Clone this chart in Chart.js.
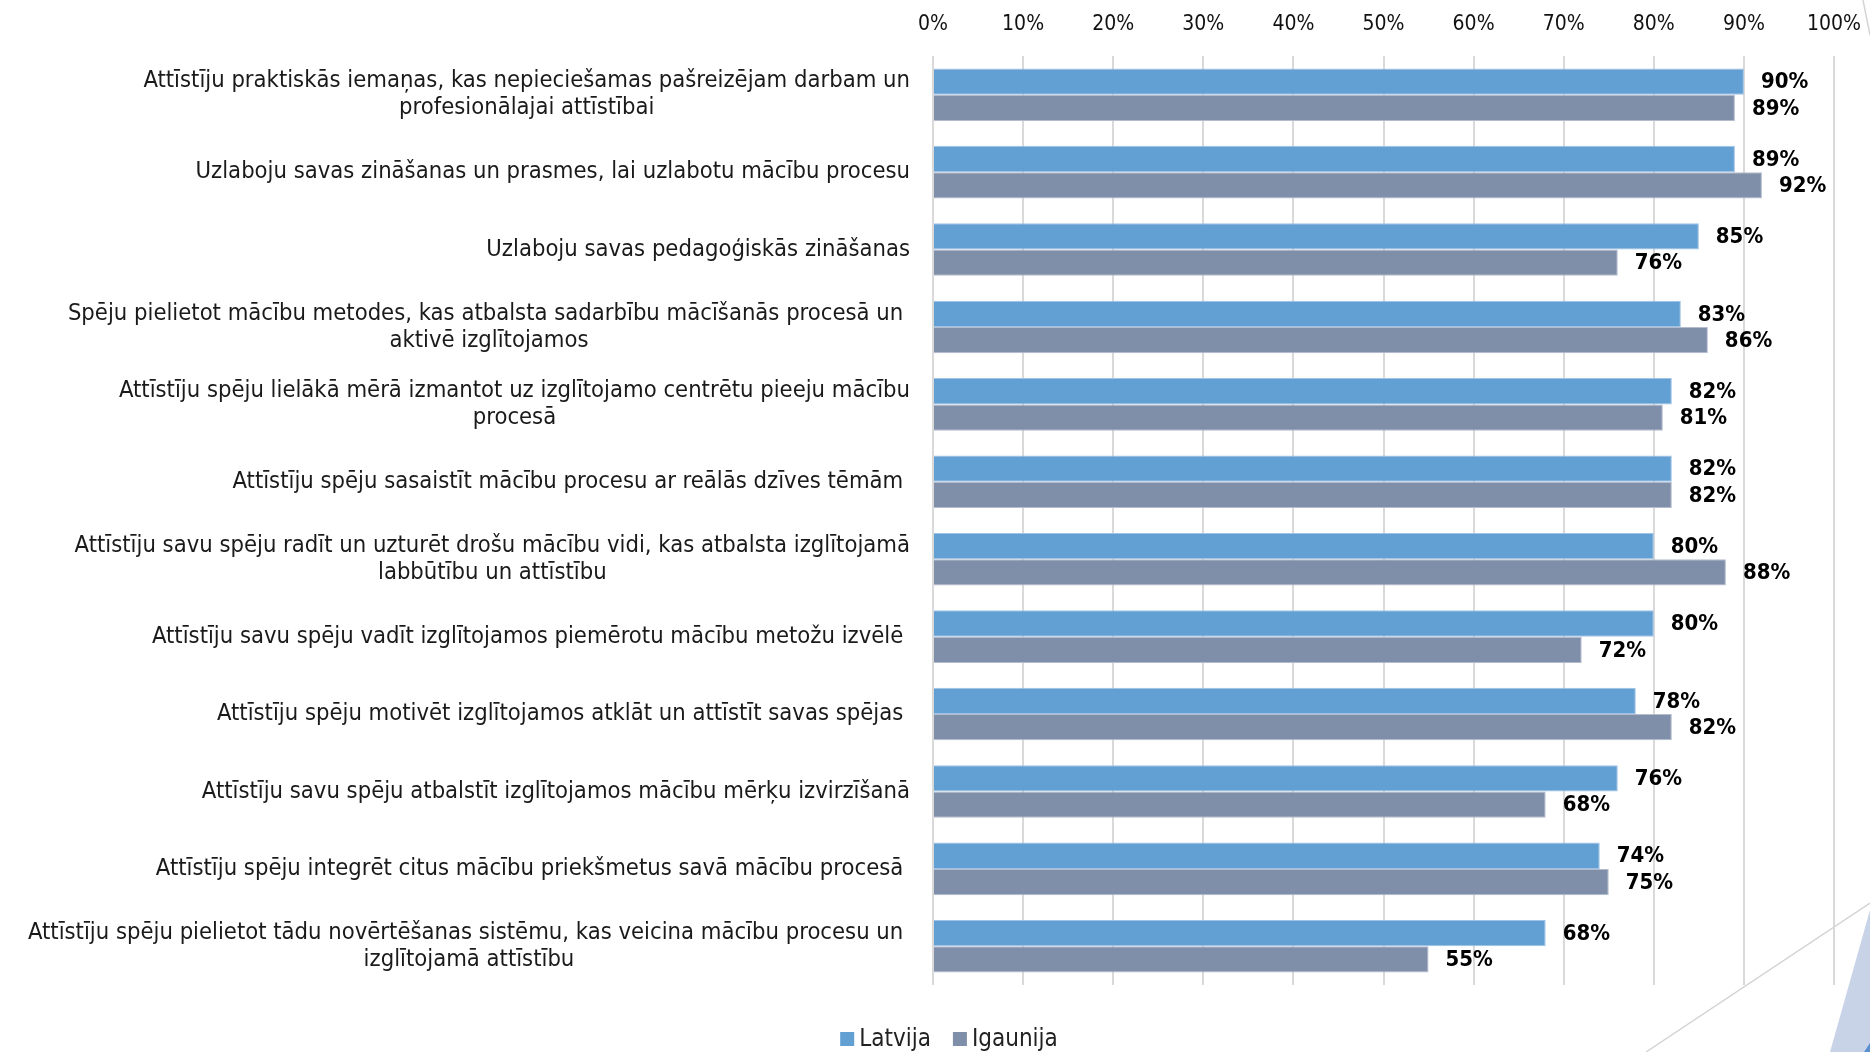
<!DOCTYPE html>
<html>
<head>
<meta charset="utf-8">
<script src="https://cdn.jsdelivr.net/npm/chart.js@4"></script>
<style>
  html, body { margin: 0; padding: 0; background: #fff; }
  .wrap { width: 1870px; height: 1052px; position: relative; }
</style>
</head>
<body>
<div class="wrap"><canvas id="bar"></canvas></div>
<script>
const categories = [
    ['Attīstīju praktiskās iemaņas, kas nepieciešamas pašreizējam darbam un', 'profesionālajai attīstībai'],
    ['Uzlaboju savas zināšanas un prasmes, lai uzlabotu mācību procesu'],
    ['Uzlaboju savas pedagoģiskās zināšanas'],
    ['Spēju pielietot mācību metodes, kas atbalsta sadarbību mācīšanās procesā un ', 'aktivē izglītojamos'],
    ['Attīstīju spēju lielākā mērā izmantot uz izglītojamo centrētu pieeju mācību', 'procesā'],
    ['Attīstīju spēju sasaistīt mācību procesu ar reālās dzīves tēmām '],
    ['Attīstīju savu spēju radīt un uzturēt drošu mācību vidi, kas atbalsta izglītojamā', 'labbūtību un attīstību'],
    ['Attīstīju savu spēju vadīt izglītojamos piemērotu mācību metožu izvēlē '],
    ['Attīstīju spēju motivēt izglītojamos atklāt un attīstīt savas spējas '],
    ['Attīstīju savu spēju atbalstīt izglītojamos mācību mērķu izvirzīšanā'],
    ['Attīstīju spēju integrēt citus mācību priekšmetus savā mācību procesā '],
    ['Attīstīju spēju pielietot tādu novērtēšanas sistēmu, kas veicina mācību procesu un ', 'izglītojamā attīstību']
];
const latvija = [90, 89, 85, 83, 82, 82, 80, 80, 78, 76, 74, 68];
const igaunija = [89, 92, 76, 86, 81, 82, 88, 72, 82, 68, 75, 55];
const xTicks = [0, 10, 20, 30, 40, 50, 60, 70, 80, 90, 100];

const cond = '"DejaVu Sans Condensed", "DejaVu Sans", sans-serif';
const labelFont = '23.6px ' + cond;
const valueFont = 'bold 22px ' + cond;

// category labels: right-aligned block, centred lines
const catLabels = {
    id: 'catLabels',
    afterDraw(chart) {
        const ctx = chart.ctx;
        const y = chart.scales.y;
        const right = chart.chartArea.left - 23;
        ctx.save();
        ctx.font = labelFont;
        ctx.fillStyle = '#1a1a1a';
        ctx.textAlign = 'center';
        ctx.textBaseline = 'middle';
        categories.forEach((lines, i) => {
            const w = Math.max(...lines.map(l => ctx.measureText(l).width));
            const cx = right - w / 2;
            const cy = y.getPixelForValue(i);
            lines.forEach((l, j) => {
                ctx.fillText(l, cx, cy + (j - (lines.length - 1) / 2) * 27);
            });
        });
        ctx.restore();
    }
};

// value labels at bar ends
const valueLabels = {
    id: 'valueLabels',
    afterDatasetsDraw(chart) {
        const ctx = chart.ctx;
        ctx.save();
        ctx.font = valueFont;
        ctx.fillStyle = '#000';
        ctx.textAlign = 'left';
        ctx.textBaseline = 'middle';
        chart.data.datasets.forEach((ds, di) => {
            chart.getDatasetMeta(di).data.forEach((bar, i) => {
                ctx.fillText(ds.data[i] + '%', bar.x + 17, bar.y + 1);
            });
        });
        ctx.restore();
    }
};

// legend under the plot
const bottomLegend = {
    id: 'bottomLegend',
    afterDraw(chart) {
        const ctx = chart.ctx;
        const ds = chart.data.datasets;
        ctx.save();
        ctx.font = '24px ' + cond;
        ctx.textBaseline = 'middle';
        const box = 14, gap = 5, between = 22;
        const widths = ds.map(d => box + gap + ctx.measureText(d.label).width);
        const total = widths.reduce((a, b) => a + b, 0) + between * (ds.length - 1);
        let x = 949 - total / 2;
        const y = 1039;
        ds.forEach((d, i) => {
            ctx.fillStyle = d.backgroundColor;
            ctx.fillRect(x, y - box / 2, box, box);
            ctx.fillStyle = '#222';
            ctx.fillText(d.label, x + box + gap, y + 1);
            x += widths[i] + between;
        });
        ctx.restore();
    }
};

// slide decoration in the corners
const deco = {
    id: 'deco',
    beforeDraw(chart) {
        const ctx = chart.ctx;
        ctx.save();
        ctx.fillStyle = '#c9d3e8';
        ctx.beginPath();
        ctx.moveTo(1830, 1052);
        ctx.lineTo(1870, 910);
        ctx.lineTo(1870, 1052);
        ctx.closePath();
        ctx.fill();
        ctx.fillStyle = '#5b8fd0';
        ctx.beginPath();
        ctx.moveTo(1864, 1052);
        ctx.lineTo(1870, 1043);
        ctx.lineTo(1870, 1052);
        ctx.closePath();
        ctx.fill();
        ctx.strokeStyle = '#d4d4d4';
        ctx.lineWidth = 1.5;
        ctx.beginPath();
        ctx.moveTo(1646, 1052);
        ctx.lineTo(1870, 903);
        ctx.moveTo(1863, 0);
        ctx.lineTo(1870, 35);
        ctx.stroke();
        ctx.restore();
    }
};

new Chart(document.getElementById('bar'), {
    type: 'bar',
    data: {
        labels: categories,
        datasets: [{
            label: 'Latvija',
            data: latvija,
            backgroundColor: '#629fd3',
            borderColor: '#9fc2e6',
            borderWidth: 1,
            categoryPercentage: 0.68,
            barPercentage: 1
        }, {
            label: 'Igaunija',
            data: igaunija,
            backgroundColor: '#808fa9',
            borderColor: '#b3bccd',
            borderWidth: 1,
            categoryPercentage: 0.68,
            barPercentage: 1
        }]
    },
    options: {
        indexAxis: 'y',
        responsive: true,
        maintainAspectRatio: false,
        animation: false,
        layout: { padding: { left: 0, right: 36, top: 0, bottom: 67 } },
        scales: {
            x: {
                position: 'top',
                min: 0,
                max: 100,
                afterBuildTicks: s => { s.ticks = xTicks.map(v => ({ value: v })); },
                afterFit: s => { s.height = 56; s.paddingRight = 0; s.paddingLeft = 0; },
                grid: { color: '#d9d9d9', lineWidth: 2, drawTicks: false },
                border: { display: false },
                ticks: {
                    padding: 19,
                    color: '#111',
                    font: { family: cond, size: 21 },
                    callback: v => v + '%'
                }
            },
            y: {
                afterFit: s => { s.width = 933; },
                grid: { display: false },
                border: { display: false },
                ticks: { display: false }
            }
        },
        plugins: {
            legend: { display: false },
            tooltip: { enabled: false }
        }
    },
    plugins: [catLabels, valueLabels, bottomLegend, deco]
});
</script>
</body>
</html>
